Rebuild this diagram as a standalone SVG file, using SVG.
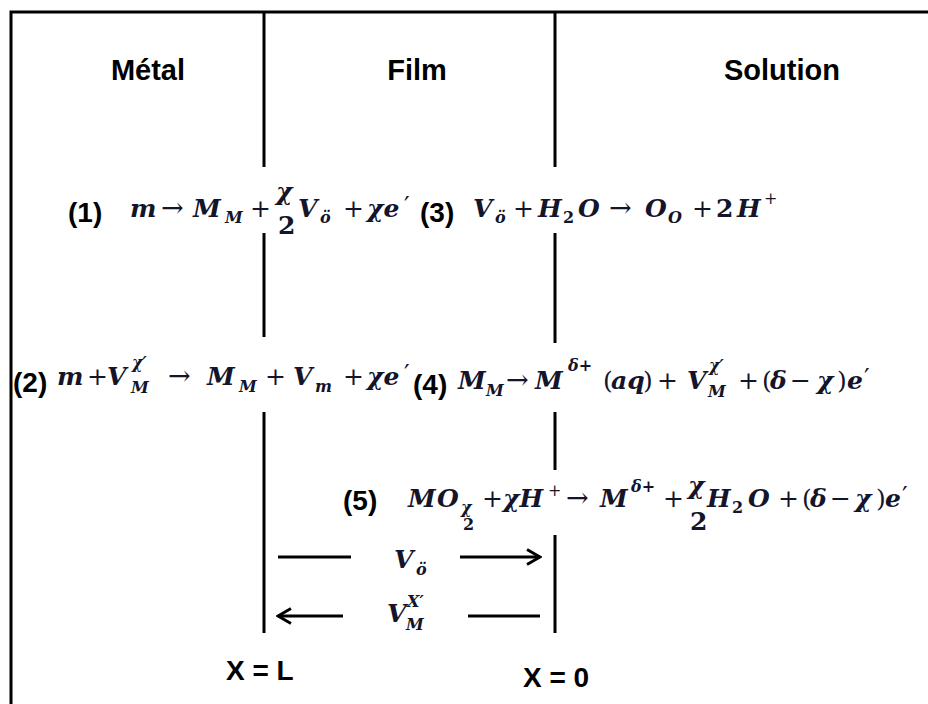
<svg xmlns="http://www.w3.org/2000/svg" width="928" height="704" viewBox="0 0 928 704">
<style>
.lbl{font-family:"Liberation Sans",Arial,sans-serif;font-weight:bold;font-size:28px;fill:#000}
.hd{font-family:"Liberation Sans",Arial,sans-serif;font-weight:bold;font-size:29px;fill:#000;text-anchor:middle}
.eq{font-family:"DejaVu Serif","Liberation Serif",serif;font-weight:bold;font-style:italic;font-size:25px;fill:#14142b}
.up{font-style:normal}
.op{font-style:normal;font-weight:normal}
.ar{font-style:normal;font-weight:normal;font-size:27px}
.sm{font-size:16px}
.bd{stroke:#000;stroke-width:3;fill:none}
</style>
<defs>
<marker id="ah" viewBox="0 0 18 18" refX="16" refY="9" markerWidth="18" markerHeight="18" orient="auto-start-reverse" markerUnits="userSpaceOnUse">
<path d="M3,1.5 L16,9 L3,16.5" fill="none" stroke="#000" stroke-width="3"/>
</marker>
</defs>
<rect width="928" height="704" fill="#fff"/>
<g id="frame">
<path class="bd" d="M11,704 V12 H928"/>
</g>
<g id="boundaries">
<path class="bd" d="M264,12 V167 M264,233 V337 M264,412 V633"/>
<path class="bd" d="M555,12 V167 M555,233 V343 M555,412 V470 M555,535 V633"/>
</g>
<g id="header-metal"><text class="hd" x="148" y="80">Métal</text></g>
<g id="header-film"><text class="hd" x="417" y="80">Film</text></g>
<g id="header-solution"><text class="hd" x="782" y="80">Solution</text></g>
<g id="eq1">
<text class="lbl" x="68" y="222">(1)</text>
<text class="eq"><tspan x="130" y="217">m</tspan><tspan class="ar" x="161" y="217">→</tspan><tspan x="193" y="217">M</tspan><tspan class="sm" x="225" y="223">M</tspan><tspan class="op" x="250" y="217">+</tspan><tspan x="276" y="200">χ</tspan><tspan class="up" x="278" y="234">2</tspan><tspan x="298" y="217">V</tspan><tspan class="sm" x="320" y="223">ö</tspan><tspan class="op" x="343" y="217">+</tspan><tspan x="367" y="217">χe</tspan><tspan class="op" x="404" y="214">′</tspan></text>
</g>
<g id="eq3">
<text class="lbl" x="420" y="222">(3)</text>
<text class="eq"><tspan x="473" y="217">V</tspan><tspan class="sm" x="495" y="223">ö</tspan><tspan class="op" x="513" y="217">+</tspan><tspan x="538" y="217">H</tspan><tspan class="sm up" x="563" y="223">2</tspan><tspan x="578" y="217">O</tspan><tspan class="ar" x="609" y="217">→</tspan><tspan x="645" y="217">O</tspan><tspan class="sm" x="668" y="223">O</tspan><tspan class="op" x="692" y="217">+</tspan><tspan class="up" x="716" y="217">2</tspan><tspan x="737" y="217">H</tspan><tspan class="sm op" x="764" y="204">+</tspan></text>
</g>
<g id="eq2">
<text class="lbl" x="13" y="392">(2)</text>
<text class="eq"><tspan x="57" y="385">m</tspan><tspan class="op" x="87" y="385">+</tspan><tspan x="107" y="385">V</tspan><tspan class="sm" x="132" y="368">χ′</tspan><tspan class="sm" x="131" y="393">M</tspan><tspan class="ar" x="168" y="385">→</tspan><tspan x="207" y="385">M</tspan><tspan class="sm" x="239" y="392">M</tspan><tspan class="op" x="265" y="385">+</tspan><tspan x="293" y="385">V</tspan><tspan class="sm" x="315" y="392">m</tspan><tspan class="op" x="343" y="385">+</tspan><tspan x="367" y="385">χe</tspan><tspan class="op" x="404" y="382">′</tspan></text>
</g>
<g id="eq4">
<text class="lbl" x="413" y="394">(4)</text>
<text class="eq"><tspan x="458" y="389">M</tspan><tspan class="sm" x="486" y="396">M</tspan><tspan class="ar" x="506" y="389">→</tspan><tspan x="535" y="389">M</tspan><tspan class="sm" x="568" y="371">δ+</tspan><tspan class="op" x="603" y="389">(</tspan><tspan x="611" y="389">aq</tspan><tspan class="op" x="643" y="389">)</tspan><tspan class="op" x="657" y="389">+</tspan><tspan x="687" y="389">V</tspan><tspan class="sm" x="709" y="371">χ′</tspan><tspan class="sm" x="708" y="397">M</tspan><tspan class="op" x="738" y="389">+</tspan><tspan class="op" x="762" y="389">(</tspan><tspan x="770" y="389">δ</tspan><tspan class="op" x="790" y="389">−</tspan><tspan x="817" y="389">χ</tspan><tspan class="op" x="837" y="389">)</tspan><tspan x="847" y="389">e</tspan><tspan class="op" x="864" y="386">′</tspan></text>
</g>
<g id="eq5">
<text class="lbl" x="343" y="510">(5)</text>
<text class="eq"><tspan x="408" y="507">M</tspan><tspan x="437" y="507">O</tspan><tspan class="sm" x="461" y="513">χ</tspan><tspan class="sm up" x="463" y="530">2</tspan><tspan class="op" x="482" y="507">+</tspan><tspan x="503" y="507">χH</tspan><tspan class="sm op" x="548" y="496">+</tspan><tspan class="ar" x="566" y="507">→</tspan><tspan x="600" y="507">M</tspan><tspan class="sm" x="631" y="492">δ+</tspan><tspan class="op" x="663" y="507">+</tspan><tspan x="688" y="494">χ</tspan><tspan class="up" x="690" y="530">2</tspan><tspan x="707" y="507">H</tspan><tspan class="sm up" x="732" y="513">2</tspan><tspan x="748" y="507">O</tspan><tspan class="op" x="778" y="507">+</tspan><tspan class="op" x="802" y="507">(</tspan><tspan x="810" y="507">δ</tspan><tspan class="op" x="830" y="507">−</tspan><tspan x="855" y="507">χ</tspan><tspan class="op" x="876" y="507">)</tspan><tspan x="885" y="507">e</tspan><tspan class="op" x="902" y="504">′</tspan></text>
</g>
<g id="connectors">
<path class="bd" d="M278,557 H351"/>
<path class="bd" d="M460,557 H540" marker-end="url(#ah)"/>
<path class="bd" d="M343,616 H278" marker-end="url(#ah)"/>
<path class="bd" d="M468,616 H540"/>
</g>
<g id="label-vo">
<text class="eq"><tspan x="394" y="568">V</tspan><tspan class="sm" x="416" y="575">ö</tspan></text>
</g>
<g id="label-vm">
<text class="eq"><tspan x="387" y="622">V</tspan><tspan class="sm" x="407" y="607">X′</tspan><tspan class="sm" x="406" y="630">M</tspan></text>
</g>
<g id="label-xl"><text class="lbl" x="226" y="680">X = L</text></g>
<g id="label-x0"><text class="lbl" x="523" y="687">X = 0</text></g>
</svg>
